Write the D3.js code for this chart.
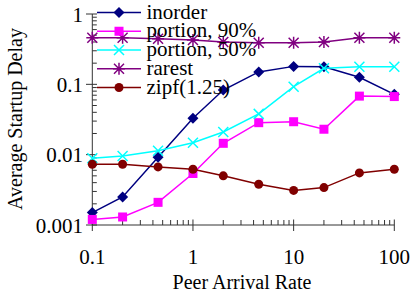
<!DOCTYPE html>
<html>
<head>
<meta charset="utf-8">
<script src="https://cdn.jsdelivr.net/npm/d3@7"></script>
<style>
	body {margin: 0; background: #fff;}
	text {font-family: "Liberation Serif", "Times New Roman", serif; fill: #000;}
</style>
</head>
<body>
<svg id="chart" width="410" height="298"></svg>
<script>
var rates = [0.1, 0.2, 0.45, 1, 2, 4.5, 10, 20, 45, 100];
var inorder = [0.0015, 0.0025, 0.0092, 0.033, 0.083, 0.15, 0.18, 0.178, 0.126, 0.072];
var portion90 = [0.0012, 0.0013, 0.0021, 0.0054, 0.0145, 0.0285, 0.0294, 0.023, 0.068, 0.067];
var portion50 = [0.0089, 0.0096, 0.0114, 0.0148, 0.021, 0.038, 0.0925, 0.169, 0.178, 0.178];
var rarest = [0.46, 0.46, 0.445, 0.427, 0.40, 0.39, 0.39, 0.40, 0.46, 0.46];
var zipf = [0.0073, 0.0073, 0.0067, 0.0062, 0.005, 0.0038, 0.0031, 0.0034, 0.0055, 0.0062];
var xTicks = [0.1, 1, 10, 100];
var yTicks = [0.001, 0.01, 0.1, 1];

var series = [
	{name: 'inorder', values: inorder, color: '#000080', marker: 'diamond'},
	{name: 'portion, 90%', values: portion90, color: '#ff00ff', marker: 'square'},
	{name: 'portion, 50%', values: portion50, color: '#00ffff', marker: 'cross'},
	{name: 'rarest', values: rarest, color: '#800080', marker: 'star'},
	{name: 'zipf(1.25)', values: zipf, color: '#800000', marker: 'circle'}
];

var svg = d3.select('#chart');
var x = d3.scaleLog().domain([0.1, 100]).range([92.3, 394.3]);
var y = d3.scaleLog().domain([0.001, 1]).range([225, 14]);

// minor ticks (inside) and major ticks (crossing)
function minors(scale) {
	var out = [];
	var d = scale.domain();
	for (var e = Math.log10(d[0]); e < Math.log10(d[1]); e++) {
		for (var k = 2; k < 10; k++) out.push(k * Math.pow(10, e));
	}
	return out;
}

var axes = svg.append('g').attr('stroke', '#333').attr('stroke-width', 1);
axes.append('line').attr('x1', x.range()[0]).attr('x2', x.range()[1])
	.attr('y1', 225).attr('y2', 225);
axes.append('line').attr('x1', 92.3).attr('x2', 92.3)
	.attr('y1', y.range()[0]).attr('y2', y.range()[1]);
axes.selectAll('.xminor').data(minors(x)).enter().append('line')
	.attr('x1', function(d) {return x(d)}).attr('x2', function(d) {return x(d)})
	.attr('y1', 225).attr('y2', 220);
axes.selectAll('.xmajor').data(xTicks).enter().append('line')
	.attr('x1', function(d) {return x(d)}).attr('x2', function(d) {return x(d)})
	.attr('y1', 219.5).attr('y2', 231);
axes.selectAll('.yminor').data(minors(y)).enter().append('line')
	.attr('x1', 92.3).attr('x2', 96.8)
	.attr('y1', function(d) {return y(d)}).attr('y2', function(d) {return y(d)});
axes.selectAll('.ymajor').data(yTicks).enter().append('line')
	.attr('x1', 86).attr('x2', 97)
	.attr('y1', function(d) {return y(d)}).attr('y2', function(d) {return y(d)});

svg.selectAll('.xlabel').data(xTicks).enter().append('text')
	.attr('x', function(d) {return x(d)}).attr('y', 264)
	.attr('text-anchor', 'middle').style('font-size', '21px')
	.text(function(d) {return String(d)});
svg.selectAll('.ylabel').data(yTicks).enter().append('text')
	.attr('x', 83).attr('y', function(d) {return y(d) + 7.5})
	.attr('text-anchor', 'end').style('font-size', '21px')
	.text(function(d) {return String(d)});

svg.append('text').attr('x', 242).attr('y', 289).attr('text-anchor', 'middle')
	.style('font-size', '20px').text('Peer Arrival Rate');
svg.append('text').attr('transform', 'translate(22,119) rotate(-90)')
	.attr('text-anchor', 'middle').style('font-size', '20px').text('Average Startup Delay');

function drawMarker(g, type, color) {
	if (type === 'diamond') {
		g.append('path').attr('d', 'M0,-5.5L5.5,0L0,5.5L-5.5,0Z').attr('fill', color);
	} else if (type === 'square') {
		g.append('rect').attr('x', -4.5).attr('y', -4.5).attr('width', 9).attr('height', 9).attr('fill', color);
	} else if (type === 'circle') {
		g.append('circle').attr('r', 4.5).attr('fill', color);
	} else if (type === 'cross') {
		g.append('path').attr('d', 'M-5,-5L5,5M-5,5L5,-5').attr('stroke', color).attr('stroke-width', 1.5);
	} else if (type === 'star') {
		g.append('path').attr('d', 'M-5,-5L5,5M-5,5L5,-5M0,-6L0,6M-6,0L6,0')
			.attr('stroke', color).attr('stroke-width', 1.5);
	}
}

var line = d3.line()
	.x(function(d) {return x(d[0])})
	.y(function(d) {return y(d[1])});

series.forEach(function(s) {
	var pts = rates.map(function(r, i) {return [r, s.values[i]]});
	var g = svg.append('g');
	g.append('path').attr('d', line(pts)).attr('fill', 'none')
		.attr('stroke', s.color).attr('stroke-width', 1.5);
	g.selectAll('.m').data(pts).enter().append('g')
		.attr('transform', function(d) {return 'translate(' + x(d[0]) + ',' + y(d[1]) + ')'})
		.each(function() {drawMarker(d3.select(this), s.marker, s.color)});
});

// legend, drawn over the plot
var legend = svg.append('g');
series.forEach(function(s, i) {
	var ly = 12.5 + i * 18.75;
	legend.append('line').attr('x1', 97).attr('x2', 141).attr('y1', ly).attr('y2', ly)
		.attr('stroke', s.color).attr('stroke-width', 1.5);
	drawMarker(legend.append('g').attr('transform', 'translate(119,' + ly + ')'), s.marker, s.color);
	legend.append('text').attr('x', 146.5).attr('y', ly + 6).style('font-size', '21px').text(s.name);
});
</script>
</body>
</html>
